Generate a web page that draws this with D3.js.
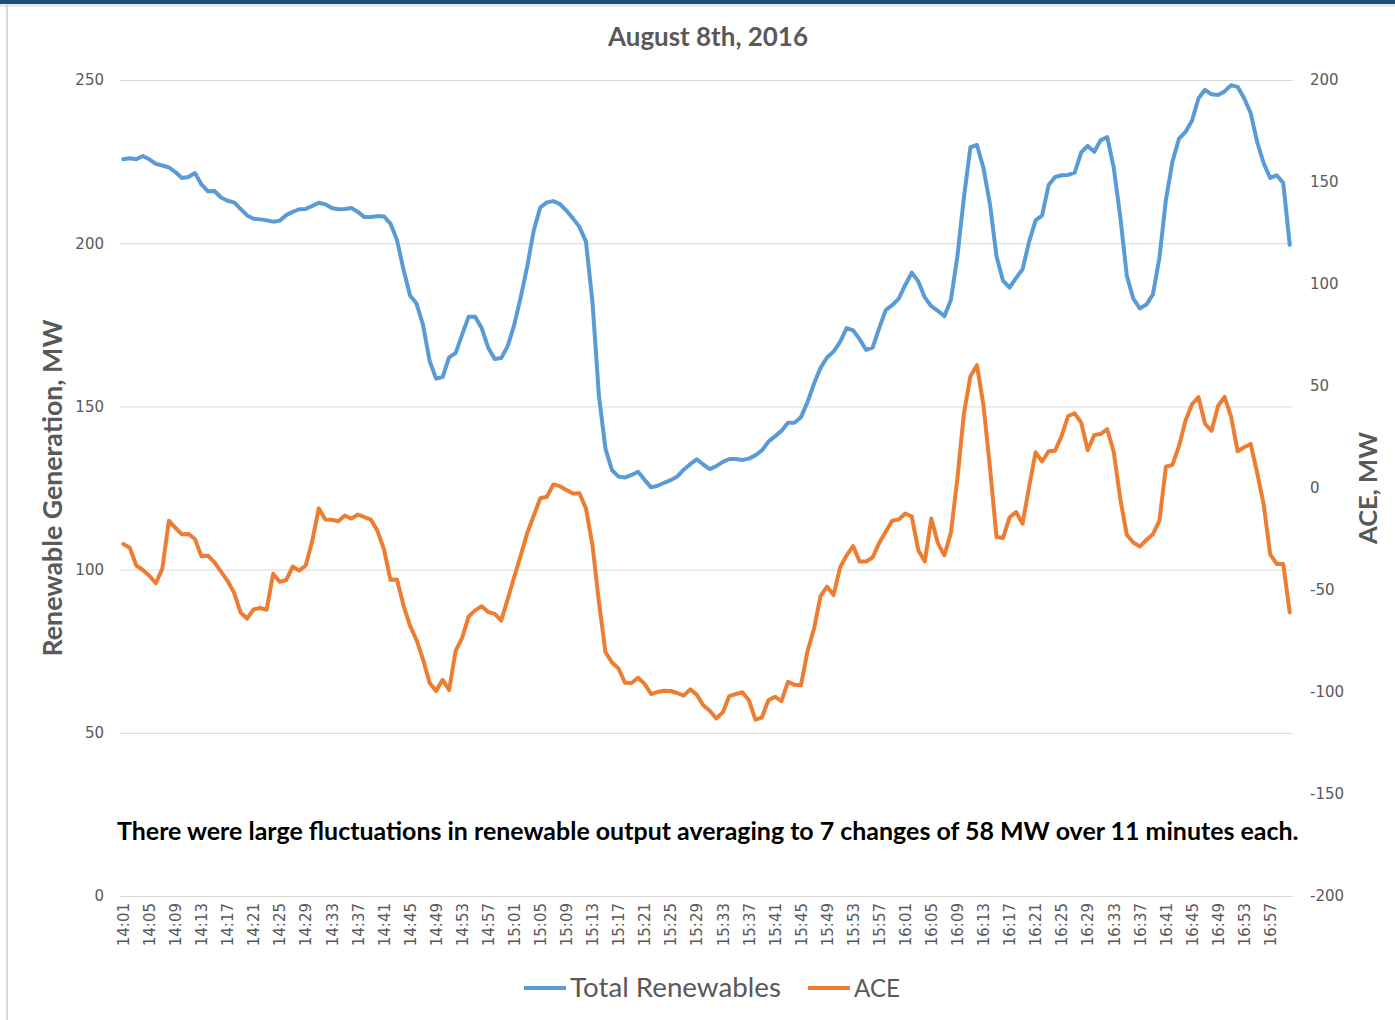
<!DOCTYPE html>
<html>
<head>
<meta charset="utf-8">
<script src="https://cdn.jsdelivr.net/npm/d3@7"></script>
<style>
  body { margin: 0; background: #fff; }
  svg { display: block; }
</style>
</head>
<body>
<svg id="chart"></svg>
<script>
// one point per minute, 14:01 .. 17:00
const startMinute = 14 * 60 + 1;
const times = d3.range(180).map(i => {
  const m = startMinute + i;
  return `${Math.floor(m / 60)}:${String(m % 60).padStart(2, "0")}`;
});

// Total Renewables, MW (left axis)
const renewables = [
  225.7, 226, 225.7, 226.7, 225.7, 224.3, 223.8, 223.2, 221.8, 220,
  220.3, 221.5, 218, 215.9, 216, 214, 213, 212.5, 210.5, 208.5,
  207.5, 207.3, 207, 206.6, 206.9, 208.6, 209.6, 210.4, 210.5, 211.4,
  212.4, 211.9, 210.8, 210.4, 210.5, 210.8, 209.6, 208, 208, 208.3,
  208.2, 206, 201, 192, 184, 181.5, 175, 164, 158.5, 159,
  165, 166.3, 172, 177.5, 177.5, 174, 168, 164.5, 164.8, 168.5,
  175, 183.5, 193, 204, 211, 212.5, 212.9, 212, 210, 207.6,
  205, 200.5, 182, 153, 137, 130.5, 128.5, 128.2, 129, 130,
  127.5, 125.2, 125.7, 126.6, 127.4, 128.5, 130.6, 132.3, 133.8, 132.2,
  130.8, 131.7, 133, 133.9, 133.9, 133.6, 134, 135, 136.5, 139.2,
  140.8, 142.5, 145, 145, 146.7, 151.3, 157, 161.8, 165, 166.8,
  169.8, 174, 173.3, 170.6, 167.3, 168, 174, 179.5, 181, 183,
  187.2, 191, 188.3, 183.4, 180.7, 179.3, 177.6, 182.6, 196, 214,
  229.4, 230.1, 223, 212, 196, 188.5, 186.4, 189.3, 192, 200.4,
  207, 208.5, 217.8, 220.3, 220.8, 220.9, 221.6, 227.8, 229.8, 228,
  231.6, 232.5, 223, 208, 190, 183, 180, 181.2, 184.3, 195.5,
  213.3, 225, 232, 234.1, 237.5, 244.4, 247, 245.6, 245.4, 246.5,
  248.4, 247.9, 244.4, 239.9, 231, 224.5, 220, 220.8, 218.5, 199.5
];

// ACE, MW (right axis)
const ace = [
  -27.5, -29.3, -38, -40.2, -43, -46.7, -39.5, -16, -19.5, -22.7,
  -22.5, -25, -33.5, -33.2, -36.5, -41, -45.5, -51.3, -61, -64,
  -59.5, -58.8, -59.7, -42, -46, -45.1, -38.5, -40.5, -38, -26,
  -10, -15.5, -15.6, -16.3, -13.5, -15, -13, -14.3, -15.5, -21,
  -30, -45, -44.8, -57.5, -67.5, -74.5, -84, -95.5, -99.5, -94,
  -99, -80, -73.5, -63, -60, -58, -60.8, -61.7, -65, -54.5,
  -43.5, -33, -22, -13.5, -5, -4.3, 1.7, 0.9, -1, -2.7,
  -2.6, -10, -28, -56, -80.5, -85.5, -88.5, -95.5, -95.6, -93,
  -96, -101, -100, -99.4, -99.5, -100.5, -101.8, -98.7, -101.3, -106.5,
  -109.2, -113, -110, -102, -101, -100.1, -104, -113.5, -112.5, -104,
  -102.3, -104.5, -95, -96.5, -96.7, -80, -69, -53, -48.3, -52.5,
  -39, -33, -28.5, -36, -36, -34, -27, -21.5, -16, -15.4,
  -12.5, -14, -30.5, -36, -15, -27, -33, -22, 4.5, 36.5,
  54.8, 60.2, 40.5, 10, -24, -24.5, -14.5, -11.8, -17.5, 0.5,
  17.5, 13, 18, 18.3, 25.5, 35.3, 36.6, 32, 18.5, 26,
  26.5, 28.8, 17.5, -5.5, -23, -26.7, -28.7, -25.5, -22.7, -16,
  10.4, 11.3, 20.5, 33, 41, 44.5, 31.5, 28, 40.2, 44.7,
  35, 18, 20, 21.6, 7.5, -8, -32.5, -37.2, -37.3, -61
];

const leftTicks = [0, 50, 100, 150, 200, 250];
const rightTicks = [-200, -150, -100, -50, 0, 50, 100, 150, 200];
const xTickLabels = times.filter((d, i) => i % 4 === 0);
const seriesNames = ["Total Renewables", "ACE"];
const seriesColors = ["#5b9bd5", "#ed7d31"];

const width = 1395;
const height = 1020;
const plot = { left: 120, right: 1293, top: 80, bottom: 896 };

const svg = d3.select("#chart").attr("width", width).attr("height", height);

// page frame: dark strip on top and faint left border
svg.append("rect").attr("x", 0).attr("y", 0).attr("width", width).attr("height", 4).attr("fill", "#1f4e79");
svg.append("rect").attr("x", 0).attr("y", 4).attr("width", width).attr("height", 3).attr("fill", "#e6e9ee");
svg.append("line").attr("x1", 7).attr("x2", 7).attr("y1", 4).attr("y2", height)
  .attr("stroke", "#d9d9d9").attr("stroke-width", 2);

const x = d3.scalePoint().domain(times).range([plot.left, plot.right]).padding(0.5);
const yL = d3.scaleLinear().domain([0, 250]).range([plot.bottom, plot.top]);
const yR = d3.scaleLinear().domain([-200, 200]).range([plot.bottom, plot.top]);

const grey = "#595959";
const tickFont = "DejaVu Sans, Verdana, sans-serif";
const titleFont = "Lato, 'Open Sans', sans-serif";

// gridlines
svg.append("g")
  .attr("transform", `translate(${plot.left},0)`)
  .call(d3.axisLeft(yL).tickValues(leftTicks).tickSize(-(plot.right - plot.left)).tickFormat(""))
  .call(g => g.select(".domain").remove())
  .call(g => g.selectAll("line").attr("stroke", "#d9d9d9"));

// left ticks
svg.append("g")
  .attr("transform", `translate(${plot.left},0)`)
  .call(d3.axisLeft(yL).tickValues(leftTicks).tickSize(0).tickPadding(16).tickFormat(d => String(d)))
  .call(g => g.select(".domain").remove())
  .selectAll("text")
  .attr("font-family", tickFont).attr("font-size", 15).attr("fill", grey);

// right ticks (plain hyphen for negatives, as in Excel)
svg.append("g")
  .attr("transform", `translate(${plot.right},0)`)
  .call(d3.axisRight(yR).tickValues(rightTicks).tickSize(0).tickPadding(17).tickFormat(d => String(d)))
  .call(g => g.select(".domain").remove())
  .selectAll("text")
  .attr("font-family", tickFont).attr("font-size", 15).attr("fill", grey);

// bottom ticks, rotated
svg.append("g")
  .attr("transform", `translate(0,${plot.bottom})`)
  .call(d3.axisBottom(x).tickValues(xTickLabels).tickSize(0))
  .call(g => g.select(".domain").remove())
  .selectAll("text")
  .attr("font-family", tickFont).attr("font-size", 15).attr("fill", grey)
  .attr("transform", "rotate(-90)")
  .attr("x", -7).attr("y", 0).attr("dy", "0.35em")
  .attr("text-anchor", "end");

// series
const lineL = d3.line().x((d, i) => x(times[i])).y(d => yL(d));
const lineR = d3.line().x((d, i) => x(times[i])).y(d => yR(d));

svg.append("path").datum(renewables)
  .attr("d", lineL).attr("fill", "none")
  .attr("stroke", seriesColors[0]).attr("stroke-width", 4)
  .attr("stroke-linejoin", "round").attr("stroke-linecap", "round");

svg.append("path").datum(ace)
  .attr("d", lineR).attr("fill", "none")
  .attr("stroke", seriesColors[1]).attr("stroke-width", 4)
  .attr("stroke-linejoin", "round").attr("stroke-linecap", "round");

// scale font so the text spans the given width
function fit(sel, w) {
  const len = sel.node().getComputedTextLength();
  const fs = parseFloat(sel.attr("font-size"));
  sel.attr("font-size", (fs * w / len).toFixed(2));
  return sel;
}

fit(svg.append("text")
  .attr("x", 708).attr("y", 46).attr("text-anchor", "middle")
  .attr("font-family", titleFont).attr("font-weight", "bold").attr("font-size", 26)
  .attr("fill", grey).text("August 8th, 2016"), 200);

fit(svg.append("text")
  .attr("transform", "translate(62,488) rotate(-90)").attr("text-anchor", "middle")
  .attr("font-family", titleFont).attr("font-weight", "bold").attr("font-size", 26)
  .attr("fill", grey).text("Renewable Generation, MW"), 337);

fit(svg.append("text")
  .attr("transform", "translate(1377,488) rotate(-90)").attr("text-anchor", "middle")
  .attr("font-family", titleFont).attr("font-weight", "bold").attr("font-size", 26)
  .attr("fill", grey).text("ACE, MW"), 112);

fit(svg.append("text")
  .attr("x", 117).attr("y", 840)
  .attr("font-family", titleFont).attr("font-weight", "bold").attr("font-size", 22)
  .attr("fill", "#000")
  .text("There were large fluctuations in renewable output averaging to 7 changes of 58 MW over 11 minutes each."), 1182);

// legend
const legendItems = [
  { x: 524, w: 211 },
  { x: 808, w: 46 }
];
legendItems.forEach((item, i) => {
  svg.append("line")
    .attr("x1", item.x).attr("x2", item.x + 42).attr("y1", 988).attr("y2", 988)
    .attr("stroke", seriesColors[i]).attr("stroke-width", 4);
  fit(svg.append("text")
    .attr("x", item.x + 46).attr("y", 997)
    .attr("font-family", titleFont).attr("font-size", 26)
    .attr("fill", grey).text(seriesNames[i]), item.w);
});
</script>
</body>
</html>
